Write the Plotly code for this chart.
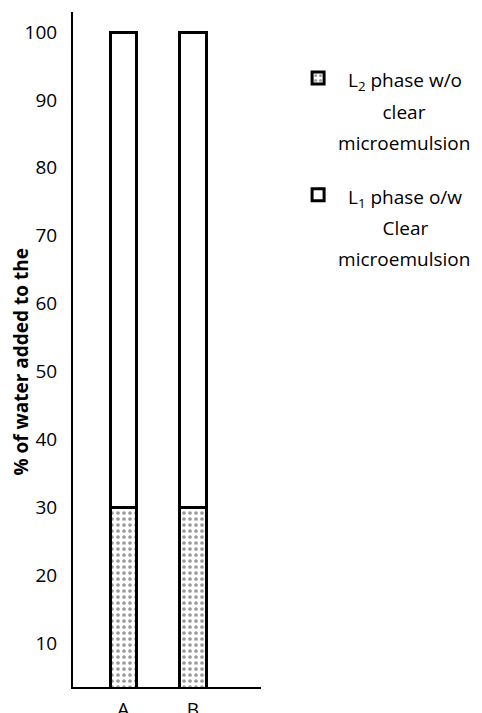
import plotly.graph_objects as go

categories = ["A", "B"]
l2_values = [30, 30]      # L2 phase w/o clear microemulsion (bottom segment)
l1_values = [70, 70]      # L1 phase o/w clear microemulsion (top segment, up to 100)
y_ticks = [10, 20, 30, 40, 50, 60, 70, 80, 90, 100]

NB = "&nbsp;"


def legend_text(lines):
    return "<br>".join('<span style="font-size:19px">' + ln + "</span>" for ln in lines)


l2_name = legend_text([NB * 2 + "L<sub>2</sub> phase w/o", NB * 9 + "clear", "microemulsion"])
l1_name = legend_text([NB * 2 + "L<sub>1</sub> phase o/w", NB * 9 + "Clear", "microemulsion"])

fig = go.Figure()
fig.add_trace(go.Bar(
    x=categories, y=l2_values, name=l2_name, legendgroup="g1",
    width=0.38,
    marker=dict(color="white", line=dict(color="black", width=3),
                pattern=dict(shape=".", fgcolor="#333333", bgcolor="white",
                             size=6, solidity=0.3)),
))
fig.add_trace(go.Bar(
    x=categories, y=l1_values, name=l1_name, legendgroup="g2",
    width=0.38,
    marker=dict(color="white", line=dict(color="black", width=3)),
))

fig.update_layout(
    barmode="stack",
    width=474, height=705,
    margin=dict(l=65, r=221, t=4, b=26),
    paper_bgcolor="white", plot_bgcolor="white",
    font=dict(family="Open Sans", size=19, color="black"),
    showlegend=True,
    legend=dict(xref="container", yref="container",
                x=0.612, xanchor="left", y=0.932, yanchor="top",
                traceorder="grouped", tracegroupgap=20, valign="top",
                font=dict(family="Open Sans", size=24, color="black"),
                bgcolor="rgba(0,0,0,0)"),
    xaxis=dict(range=[-0.722, 1.976], showline=True, linecolor="black",
               linewidth=2, ticks="", showgrid=False, zeroline=False,
               automargin=False,
               tickfont=dict(size=19), ticklabelstandoff=4),
    yaxis=dict(range=[3.52, 102.95], tickvals=y_ticks, showline=True,
               linecolor="black", linewidth=2, ticks="", showgrid=False,
               zeroline=False, ticklabelstandoff=10, automargin=False,
               title=dict(text="<b>% of water added to the</b>" + NB * 5,
                          font=dict(family="Open Sans", size=19), standoff=14)),
)

fig.write_html("out.html")
